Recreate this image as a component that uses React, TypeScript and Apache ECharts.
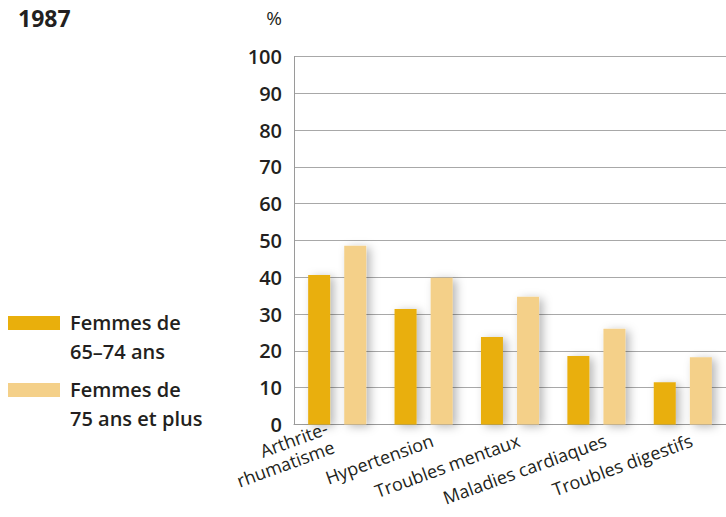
import React, { useEffect, useRef } from "react";
import * as echarts from "echarts";

const title = "1987";
const unit = "%";
const categories = ["Arthrite-\nrhumatisme", "Hypertension", "Troubles mentaux", "Maladies cardiaques", "Troubles digestifs"];
const seriesNames = ["Femmes de\n65–74 ans", "Femmes de\n75 ans et plus"];
const women6574 = [40.6, 31.4, 23.8, 18.6, 11.5];
const women75plus = [48.6, 39.9, 34.7, 26.0, 18.3];
const colors = ["#E9AF0C", "#F4D089"];

const FONT = "'Open Sans', sans-serif";

export default function App() {
  const ref = useRef<HTMLDivElement>(null);
  useEffect(() => {
    const chart = echarts.init(ref.current!, null, { renderer: "svg" });
    const barStyle = (c: string) => ({
      color: c,
      shadowBlur: 10,
      shadowColor: "rgba(0,0,0,0.28)",
      shadowOffsetX: 4,
      shadowOffsetY: 2,
    });
    chart.setOption({
      animation: false,
      title: {
        text: title,
        left: 18,
        top: 2,
        padding: 0,
        textStyle: { fontFamily: FONT, fontWeight: 700, fontSize: 23, lineHeight: 32, color: "#231f20" },
      },
      grid: { left: 294, right: 0, top: 56.5, bottom: 92.5, containLabel: false },
      xAxis: {
        type: "category",
        data: categories,
        axisLine: { show: true, lineStyle: { color: "#9a9a9a", width: 1 } },
        axisTick: { show: false },
        axisLabel: {
          interval: 0,
          rotate: 20,
          margin: 8,
          padding: [19, 0, 0, 0],
          color: "#231f20",
          fontFamily: FONT,
          fontSize: 18,
          fontWeight: 500,
          lineHeight: 20,
          formatter: (v: string, i: number) => {
            const parts = v.split("\n");
            if (i === 0) return parts.map((s) => `{r|${s}}`).join("\n") + "\n{e| }";
            return parts.map((s) => `{s|${s}}`).join("\n");
          },
          rich: {
            r: { fontFamily: FONT, fontSize: 18, fontWeight: 500, color: "#231f20", lineHeight: 20, padding: [0, 8, 0, 0] },
            s: { fontFamily: FONT, fontSize: 18, fontWeight: 500, color: "#231f20", lineHeight: 20, padding: [0, -6, 0, 0] },
            e: { fontFamily: FONT, fontSize: 10, lineHeight: 16, color: "#231f20" },
          },
        },
      },
      yAxis: {
        type: "value",
        min: 0,
        max: 100,
        interval: 10,
        name: unit,
        nameLocation: "end",
        nameGap: 29,
        nameTextStyle: { fontFamily: FONT, fontSize: 19, fontWeight: 500, color: "#231f20", align: "right", padding: [0, 12, 0, 0] },
        axisLine: { show: true, lineStyle: { color: "#9a9a9a", width: 1 } },
        axisTick: { show: false },
        splitLine: { show: true, lineStyle: { color: "#a8a8a8", width: 1 } },
        axisLabel: { margin: 12, color: "#231f20", fontFamily: FONT, fontSize: 20, fontWeight: 600 },
      },
      series: [
        { name: seriesNames[0], type: "bar", data: women6574, barWidth: 22, barGap: "64%", itemStyle: barStyle(colors[0]) },
        { name: seriesNames[1], type: "bar", data: women75plus, barWidth: 22, itemStyle: barStyle(colors[1]) },
      ],
      graphic: [
        { type: "rect", left: 8, top: 316, shape: { width: 52, height: 14 }, style: { fill: colors[0] } },
        {
          type: "text",
          left: 70,
          top: 308,
          style: { text: seriesNames[0], font: `600 20px ${FONT}`, fill: "#231f20", lineHeight: 29 },
        },
        { type: "rect", left: 8, top: 383, shape: { width: 52, height: 14 }, style: { fill: colors[1] } },
        {
          type: "text",
          left: 70,
          top: 375,
          style: { text: seriesNames[1], font: `600 20px ${FONT}`, fill: "#231f20", lineHeight: 29 },
        },
      ],
    });
    return () => chart.dispose();
  }, []);
  return <div ref={ref} style={{ width: 726, height: 517, position: "absolute", left: 0, top: 0 }} />;
}
